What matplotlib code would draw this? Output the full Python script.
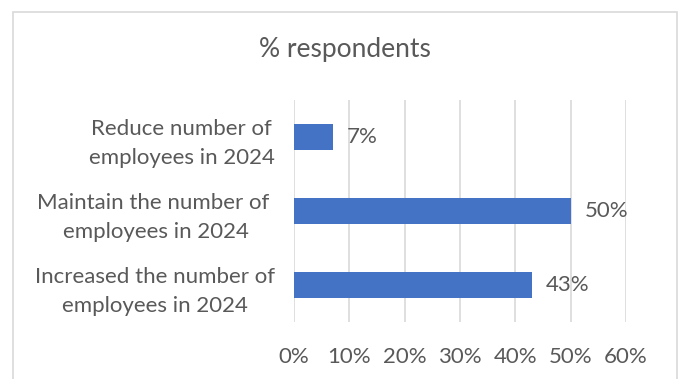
import matplotlib.pyplot as plt
from matplotlib.patches import Rectangle

categories = [
    "Increased the number of\nemployees in 2024",
    "Maintain the number of \nemployees in 2024",
    "Reduce number of\nemployees in 2024",
]
values = [43, 50, 7]
xticks = [0, 10, 20, 30, 40, 50, 60]

TEXT = "#595959"
BAR = "#4472C4"
GRID = "#D9D9D9"

plt.rcParams["font.family"] = ["Lato", "DejaVu Sans"]

fig = plt.figure(figsize=(6.82, 3.79), dpi=100)
fig.patches.append(Rectangle((13 / 682, -0.05), (677 - 13) / 682, 1 - 12 / 379 + 0.05,
                             transform=fig.transFigure, fill=False,
                             edgecolor="#D9D9D9", linewidth=1.2))

ax = fig.add_axes([294 / 682, 1 - 322 / 379, (626 - 294) / 682, (322 - 100) / 379])
ypos = list(range(len(categories)))
ax.barh(ypos, values, height=0.35, color=BAR, zorder=3)
ax.set_xlim(0, 60)
ax.set_ylim(-0.5, 2.5)
ax.set_xticks(xticks)
ax.set_xticklabels([f"{t}%" for t in xticks])
ax.set_yticks(ypos)
ax.set_yticklabels(categories, ha="right", multialignment="center", linespacing=1.55)
ax.tick_params(axis="y", length=0, pad=14, labelsize=16, colors=TEXT)
ax.tick_params(axis="x", length=0, pad=18, labelsize=16, colors=TEXT)
ax.grid(axis="x", color=GRID, linewidth=1.2, zorder=0)
for s in ax.spines.values():
    s.set_visible(False)

for y, v in zip(ypos, values):
    ax.text(v + 2.5, y, f"{v}%", va="center", ha="left", fontsize=16, color=TEXT)

fig.text(345 / 682, 1 - 50 / 379, "% respondents", ha="center", va="center",
         fontsize=19, color=TEXT)

fig.savefig("out.png", dpi=100)
